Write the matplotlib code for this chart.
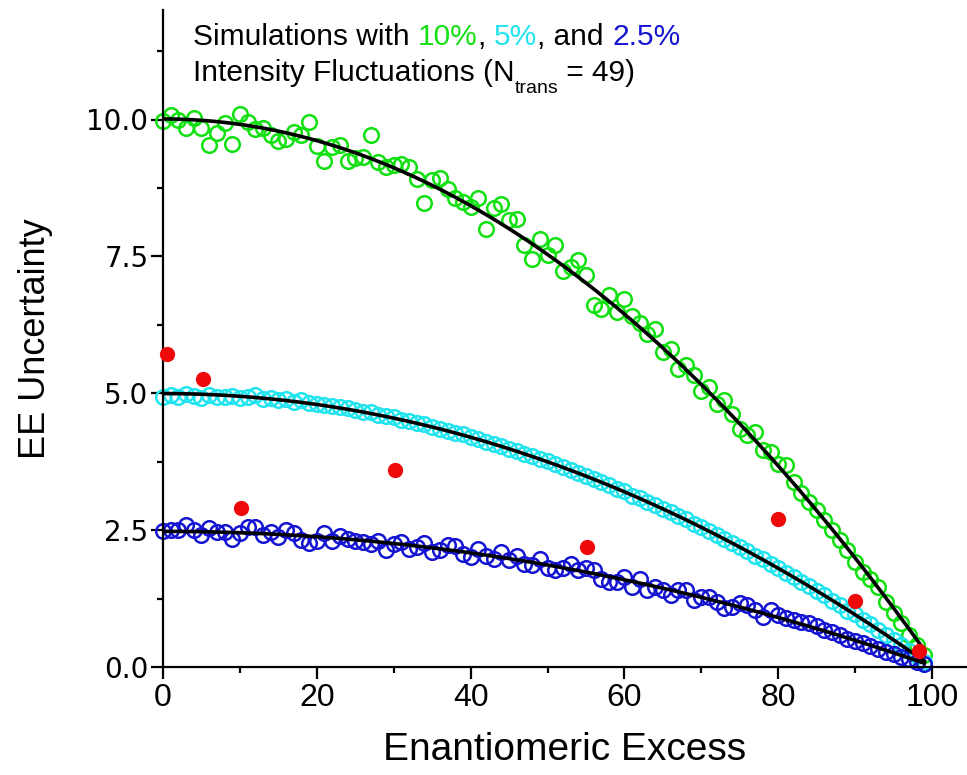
import numpy as np
import matplotlib
matplotlib.use("Agg")
import matplotlib.pyplot as plt
from matplotlib.ticker import MultipleLocator, FormatStrFormatter
from matplotlib.transforms import IdentityTransform

# Enantiomeric excess grid of the simulations
ee = list(range(0, 100))

# Simulated EE uncertainty for 10 % intensity fluctuations
unc_10 = [9.97, 10.08, 9.99, 9.85, 10.03, 9.84, 9.53, 9.76, 9.93, 9.55,
          10.10, 9.96, 9.83, 9.85, 9.72, 9.61, 9.65, 9.78, 9.72, 9.95,
          9.51, 9.24, 9.50, 9.53, 9.25, 9.29, 9.31, 9.71, 9.22, 9.13,
          9.16, 9.19, 9.13, 8.92, 8.48, 8.89, 8.93, 8.73, 8.56, 8.49,
          8.40, 8.56, 8.00, 8.38, 8.45, 8.16, 8.19, 7.71, 7.45, 7.81,
          7.52, 7.71, 7.24, 7.31, 7.43, 7.16, 6.62, 6.54, 6.79, 6.48,
          6.73, 6.42, 6.29, 6.09, 6.18, 5.76, 5.81, 5.45, 5.51, 5.34,
          5.05, 5.11, 4.81, 4.87, 4.63, 4.35, 4.23, 4.29, 3.96, 3.93,
          3.71, 3.69, 3.38, 3.17, 3.02, 2.86, 2.68, 2.50, 2.32, 2.14,
          1.92, 1.74, 1.61, 1.47, 1.19, 0.98, 0.80, 0.58, 0.40, 0.22]

# Simulated EE uncertainty for 5 % intensity fluctuations
unc_5 = [4.94, 4.97, 4.93, 4.98, 4.95, 4.92, 4.97, 4.94, 4.93, 4.95,
         4.91, 4.93, 4.97, 4.90, 4.92, 4.88, 4.89, 4.84, 4.88, 4.83,
         4.80, 4.79, 4.76, 4.74, 4.73, 4.70, 4.66, 4.65, 4.60, 4.58,
         4.56, 4.51, 4.49, 4.45, 4.43, 4.38, 4.35, 4.31, 4.28, 4.25,
         4.20, 4.17, 4.11, 4.08, 4.04, 3.98, 3.95, 3.89, 3.86, 3.80,
         3.76, 3.70, 3.66, 3.59, 3.55, 3.49, 3.44, 3.37, 3.33, 3.26,
         3.21, 3.13, 3.09, 3.01, 2.96, 2.89, 2.83, 2.75, 2.70, 2.61,
         2.56, 2.48, 2.42, 2.33, 2.27, 2.19, 2.12, 2.03, 1.97, 1.88,
         1.81, 1.72, 1.65, 1.55, 1.48, 1.39, 1.31, 1.21, 1.14, 1.03,
         0.96, 0.86, 0.78, 0.67, 0.59, 0.49, 0.40, 0.29, 0.20, 0.09]

# Simulated EE uncertainty for 2.5 % intensity fluctuations
unc_25 = [2.48, 2.50, 2.51, 2.59, 2.50, 2.41, 2.53, 2.47, 2.47, 2.34,
          2.44, 2.55, 2.55, 2.41, 2.47, 2.37, 2.50, 2.45, 2.32, 2.26,
          2.30, 2.44, 2.30, 2.39, 2.33, 2.30, 2.28, 2.25, 2.30, 2.14,
          2.25, 2.28, 2.16, 2.19, 2.27, 2.10, 2.13, 2.23, 2.21, 2.07,
          2.01, 2.15, 2.03, 1.98, 2.10, 1.95, 2.03, 1.89, 1.86, 1.98,
          1.80, 1.77, 1.80, 1.89, 1.77, 1.80, 1.77, 1.61, 1.56, 1.56,
          1.65, 1.47, 1.61, 1.41, 1.47, 1.41, 1.31, 1.41, 1.41, 1.22,
          1.28, 1.28, 1.19, 1.07, 1.10, 1.16, 1.13, 1.04, 0.92, 1.04,
          0.95, 0.89, 0.86, 0.83, 0.80, 0.74, 0.68, 0.64, 0.58, 0.52,
          0.48, 0.43, 0.38, 0.33, 0.28, 0.23, 0.19, 0.14, 0.10, 0.06]

# Experimental points
exp_ee = [0.5, 5.2, 10.1, 30.2, 55.1, 80.0, 90.0, 98.3]
exp_unc = [5.71, 5.26, 2.90, 3.59, 2.19, 2.70, 1.20, 0.29]

GREEN = "#11e011"
CYAN = "#22e4ee"
BLUE = "#1414d2"
RED = "#ee0a0a"

W, H = 967, 775
fig = plt.figure(figsize=(W / 100, H / 100), dpi=100)
ax = fig.add_axes([163 / W, 108 / H, 1 - 163 / W, 657 / H])

for vals, col in ((unc_10, GREEN), (unc_5, CYAN), (unc_25, BLUE)):
    ax.plot(ee, vals, linestyle="none", marker="o", markersize=10.5,
            markerfacecolor="none", markeredgecolor=col, markeredgewidth=1.8,
            zorder=2, clip_on=False)

# fits of the form a + b*ee^2 through each simulated series
ee_arr = np.asarray(ee, dtype=float)
xf = np.linspace(0, 99, 300)
for vals in (unc_10, unc_5, unc_25):
    b, a = np.polyfit(ee_arr ** 2, vals, 1)
    ax.plot(xf, a + b * xf ** 2, color="black", lw=2.6, zorder=3)

ax.plot(exp_ee, exp_unc, linestyle="none", marker="o", markersize=11,
        color=RED, markeredgewidth=0, zorder=4, clip_on=False)

ax.set_xlim(0, 104.55)
ax.set_ylim(0, 12)
for s in ("top", "right"):
    ax.spines[s].set_visible(False)
for s in ("left", "bottom"):
    ax.spines[s].set_linewidth(1.6)

ax.xaxis.set_major_locator(MultipleLocator(20))
ax.xaxis.set_minor_locator(MultipleLocator(10))
ax.yaxis.set_major_locator(MultipleLocator(2.5))
ax.yaxis.set_minor_locator(MultipleLocator(1.25))
ax.yaxis.set_major_formatter(FormatStrFormatter("%.1f"))
ax.tick_params(which="major", direction="out", length=8.5, width=1.6)
ax.tick_params(which="minor", direction="out", length=4.5, width=1.6)
ax.tick_params(axis="x", which="major", pad=3)
ax.tick_params(axis="y", which="major", pad=2)

for lab in ax.get_xticklabels():
    lab.set_family("Liberation Sans")
    lab.set_fontsize(23)
for lab in ax.get_yticklabels():
    lab.set_family("DejaVu Sans")
    lab.set_fontsize(20)

ax.set_xlabel("Enantiomeric Excess", family="Liberation Sans", fontsize=28,
              labelpad=14)
ax.set_ylabel("EE Uncertainty", family="Liberation Sans", fontsize=26,
              labelpad=24)

renderer = fig.canvas.get_renderer()


def write_run(pieces, x0, y0):
    x = x0
    for text, color, dy, size in pieces:
        t = fig.text(x, y0 + dy, text, color=color, fontsize=size,
                     family="Liberation Sans", ha="left", va="baseline",
                     transform=IdentityTransform())
        x = t.get_window_extent(renderer).x1


write_run([("Simulations with ", "black", 0, 21.5),
           ("10%", GREEN, 0, 21.5),
           (", ", "black", 0, 21.5),
           ("5%", CYAN, 0, 21.5),
           (", and ", "black", 0, 21.5),
           ("2.5%", BLUE, 0, 21.5)], 193, H - 45)
write_run([("Intensity Fluctuations (N", "black", 0, 21.5),
           ("trans", "black", -12, 14),
           (" = 49)", "black", 0, 21.5)], 193, H - 81)

fig.savefig("out.png", dpi=100)
